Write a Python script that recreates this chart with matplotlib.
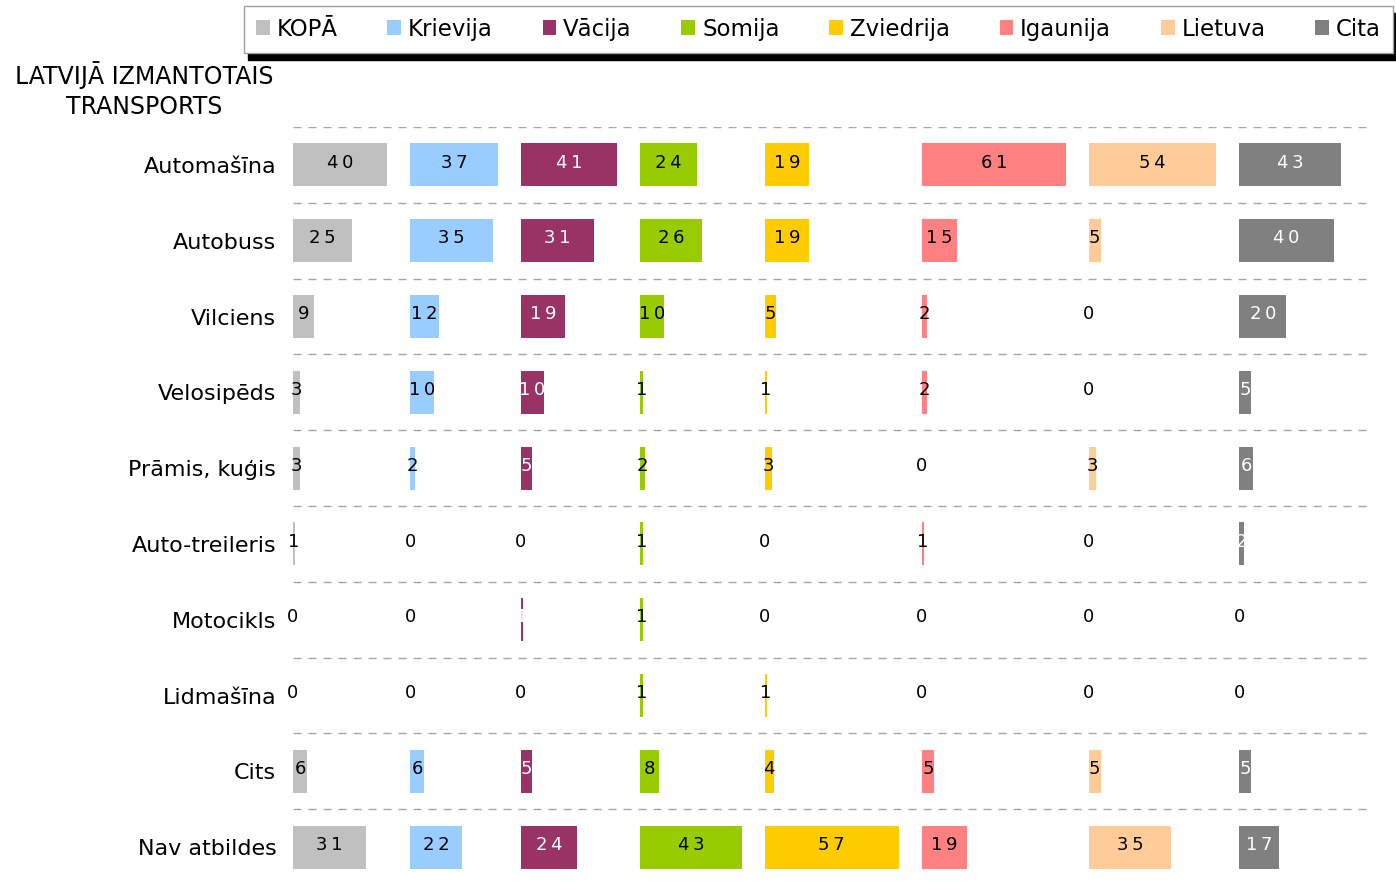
import matplotlib.pyplot as plt
from matplotlib.patches import Patch

# dati
categories = ['Automašīna', 'Autobuss', 'Vilciens', 'Velosipēds', 'Prāmis, kuģis',
              'Auto-treileris', 'Motocikls', 'Lidmašīna', 'Cits', 'Nav atbildes']
groups = ['KOPĀ', 'Krievija', 'Vācija', 'Somija', 'Zviedrija', 'Igaunija', 'Lietuva', 'Cita']

kopa = [40, 25, 9, 3, 3, 1, 0, 0, 6, 31]
krievija = [37, 35, 12, 10, 2, 0, 0, 0, 6, 22]
vacija = [41, 31, 19, 10, 5, 0, 1, 0, 5, 24]
somija = [24, 26, 10, 1, 2, 1, 1, 1, 8, 43]
zviedrija = [19, 19, 5, 1, 3, 0, 0, 1, 4, 57]
igaunija = [61, 15, 2, 2, 0, 1, 0, 0, 5, 19]
lietuva = [54, 5, 0, 0, 3, 0, 0, 0, 5, 35]
cita = [43, 40, 20, 5, 6, 2, 0, 0, 5, 17]

series = [kopa, krievija, vacija, somija, zviedrija, igaunija, lietuva, cita]
colors = ['#c0c0c0', '#99ccff', '#993366', '#99cc00', '#ffcc00', '#ff8080', '#ffcc99', '#808080']
text_colors = ['black', 'black', 'white', 'black', 'black', 'black', 'black', 'white']

W, H = 1396, 885
fig = plt.figure(figsize=(W / 100, H / 100), dpi=100)
plt.rcParams['font.family'] = ['DejaVu Sans']

# ass: kreisā mala 293px, labā 1373px, augša 127px
ax = fig.add_axes([293 / W, -2 / H, (1373 - 293) / W, (887 - 127) / H])

gap = 9.7
offset = 0
for vals, col, tcol in zip(series, colors, text_colors):
    y = list(range(len(categories)))
    ax.barh(y, vals, left=offset, height=0.565, color=col, linewidth=0)
    for yi, v in zip(y, vals):
        txt = '\u2009'.join(str(v))
        c = tcol if v > 0 else 'black'
        ax.text(offset + v / 2, yi - 0.03, txt, ha='center', va='center',
                fontsize=13, color=c)
    offset += max(vals) + gap

for i in range(len(categories)):
    ax.axhline(i - 0.5, color='#a6a6a6', lw=1, dashes=(5.8, 5))

ax.set_xlim(0, 1080 / 2.36)
ax.set_ylim(len(categories) - 0.5 + 2 / 76, -0.5)
ax.set_xticks([])
ax.set_yticks(range(len(categories)))
ax.set_yticklabels(categories, fontsize=16)
ax.tick_params(axis='y', length=0, pad=12)
for s in ax.spines.values():
    s.set_visible(False)

fig.text(144 / W, 1 - 90 / H, 'LATVIJĀ IZMANTOTAIS\nTRANSPORTS', ha='center', va='center',
         fontsize=17, linespacing=1.28, multialignment='center')

handles = [Patch(facecolor=c, edgecolor='none', label=g) for g, c in zip(groups, colors)]
leg = fig.legend(handles=handles, loc='lower left', ncol=8, mode='expand',
                 bbox_to_anchor=(244 / W, 1 - 53 / H, (1393 - 244) / W, 0.02),
                 borderaxespad=0, fontsize=16.5, handlelength=0.6, handleheight=0.6,
                 handletextpad=0.3, borderpad=0.53, fancybox=False, framealpha=1,
                 edgecolor='#a0a0a0',
                 shadow={'color': 'black', 'alpha': 1, 'ox': 2.9, 'oy': -5})
leg.get_frame().set_linewidth(1)

plt.savefig('out.png', dpi=100)
